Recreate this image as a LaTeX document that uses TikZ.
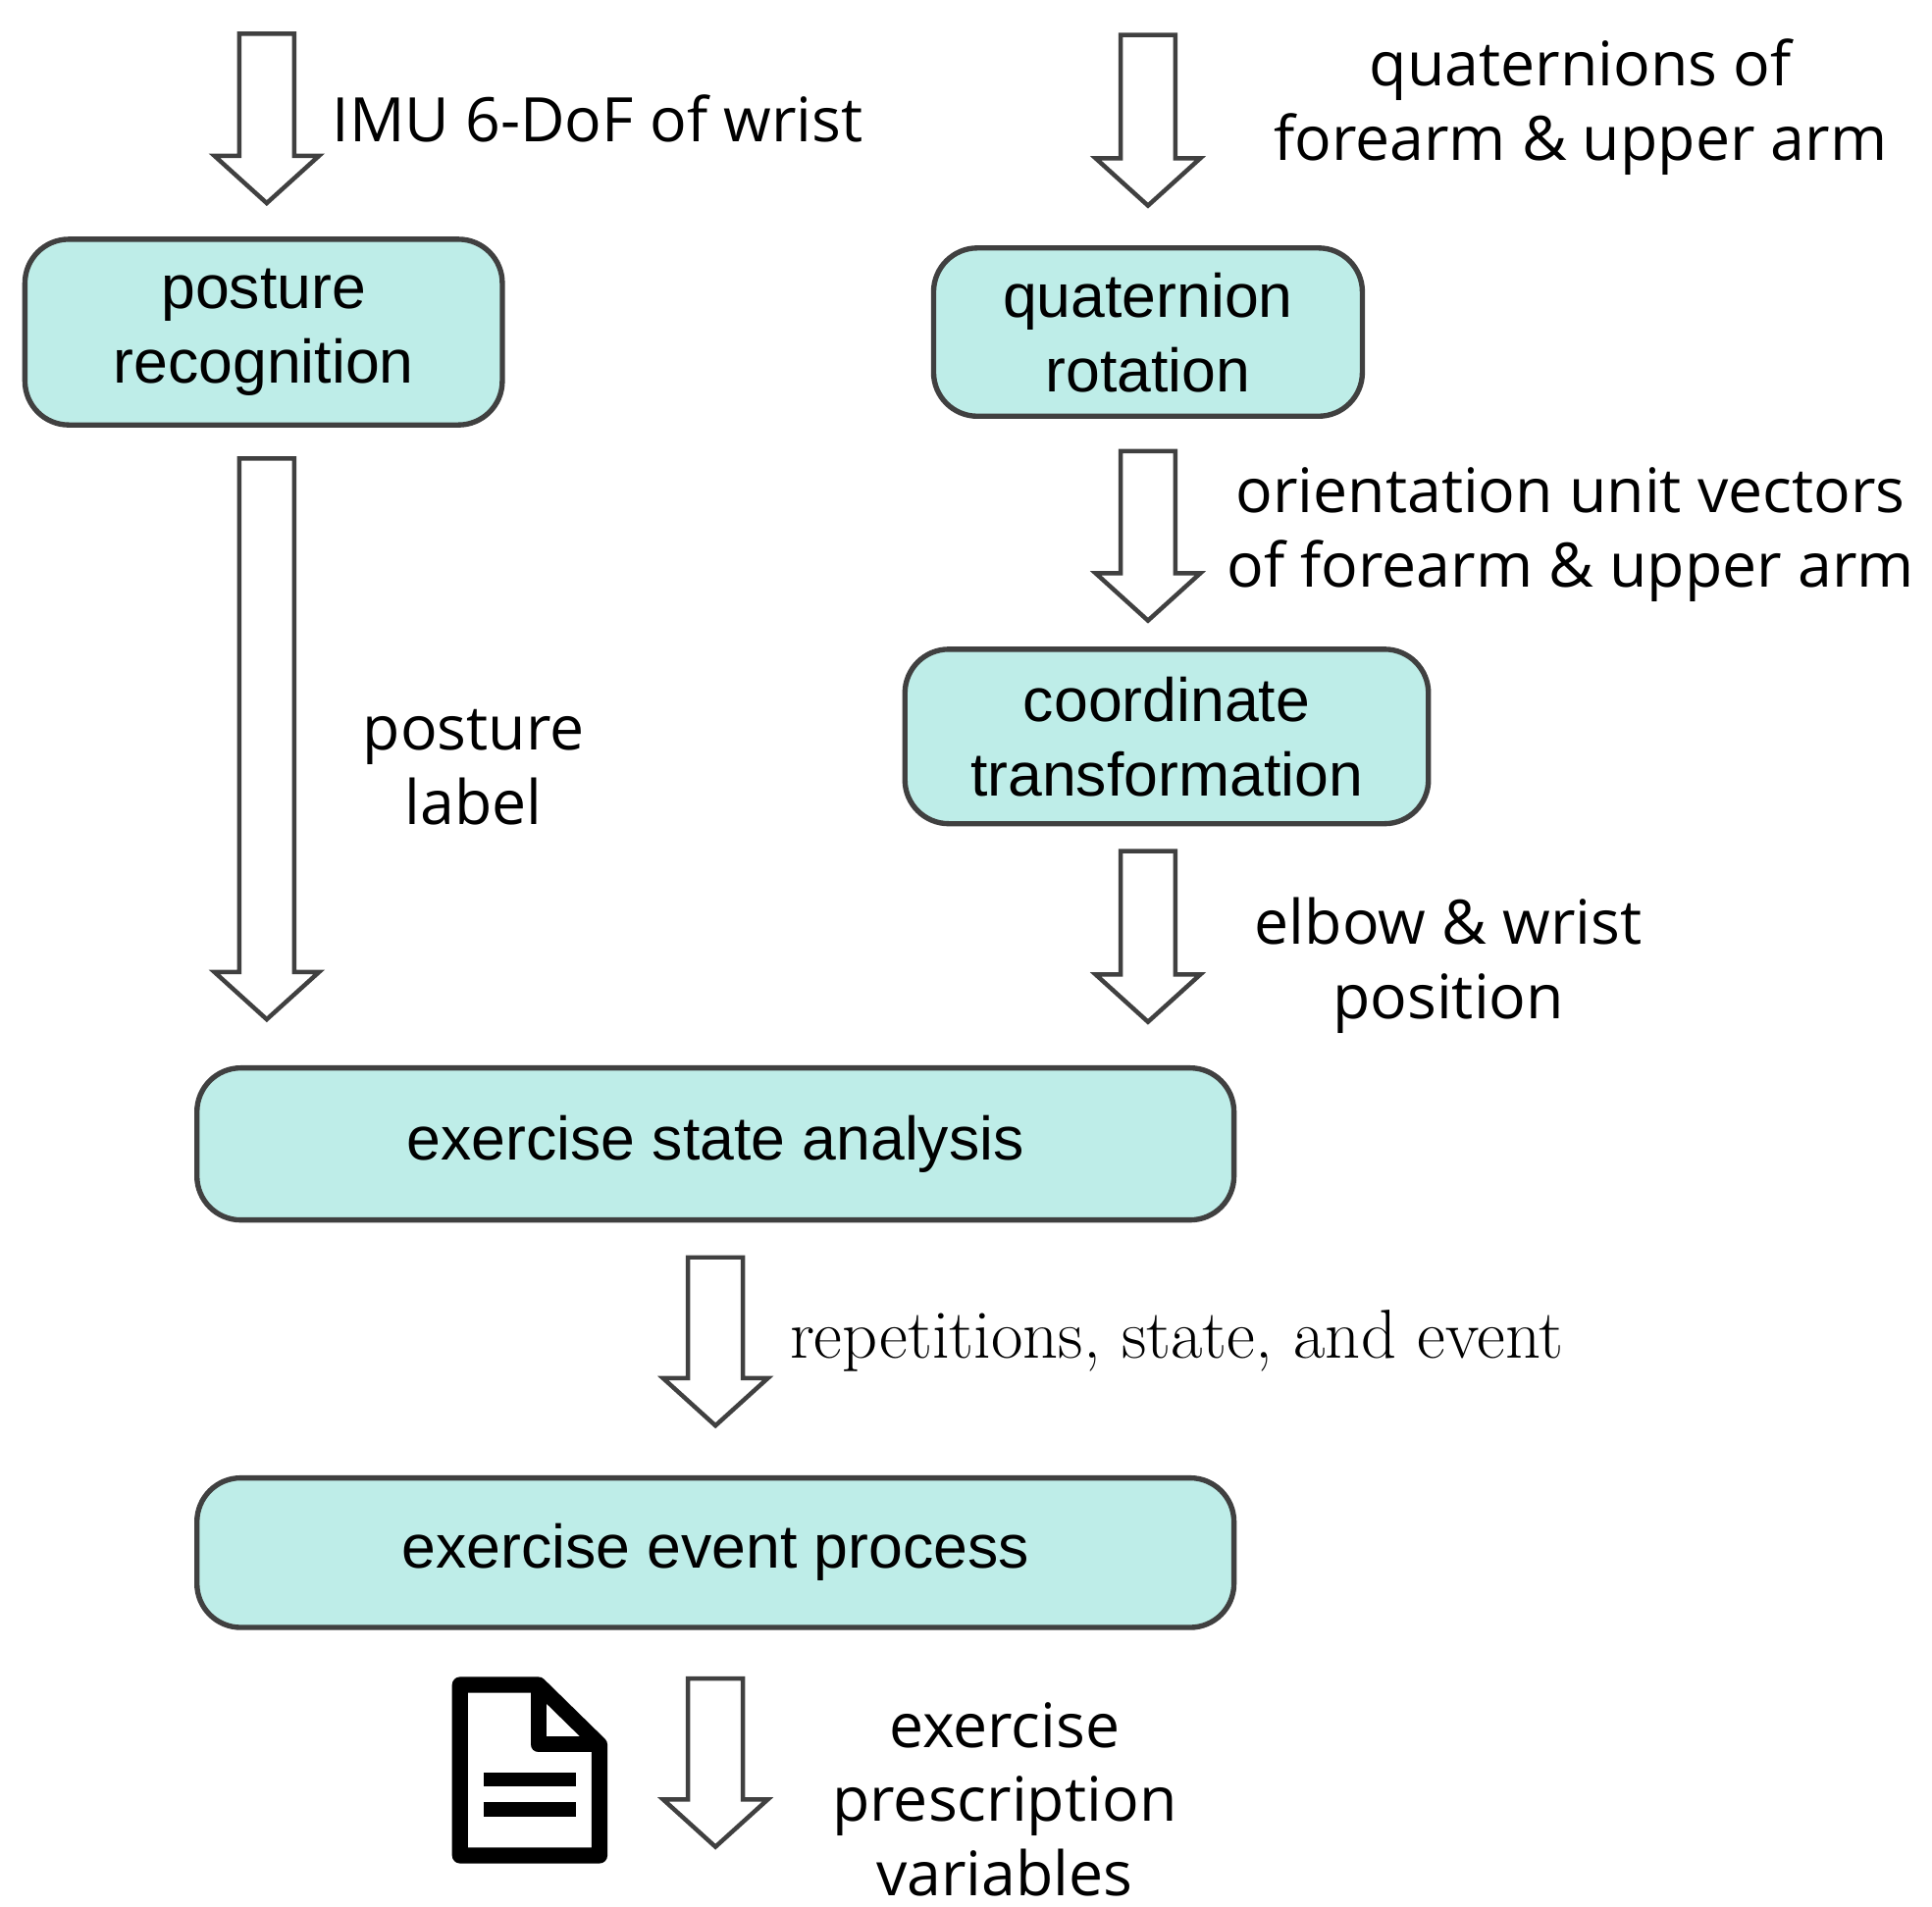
\documentclass[tikz,border=0pt]{standalone}
\usepackage{fontspec}
\setmainfont{Liberation Sans}
\newfontfamily\lab{Open Sans}
\newfontfamily\serif{Latin Modern Roman}
\begin{document}
\begin{tikzpicture}[x=0.01cm,y=-0.01cm,
 box/.style={draw=black!75,line width=1.2pt,fill=boxc,rounded corners=10pt,font=\fontsize{14}{18}\selectfont,align=center,inner sep=0pt},
 txt/.style={font=\fontsize{14}{17}\selectfont,align=center,inner sep=0pt},
 lbl/.style={font=\lab\fontsize{14}{17}\selectfont,align=center,inner sep=0pt},
 harr/.style={draw=black!75,line width=1pt,fill=white}]
\definecolor{boxc}{HTML}{BEEDE8}
\useasboundingbox (0,0) rectangle (1550,1530);
\newcommand{\harrow}[3]{\draw[harr] (#1-22,#2) -- (#1+22,#2) -- (#1+22,#3-38) -- (#1+42,#3-38) -- (#1,#3) -- (#1-42,#3-38) -- (#1-22,#3-38) -- cycle;}
\harrow{214}{27}{163}
\harrow{921}{28}{165}
\harrow{921}{362}{498}
\harrow{921}{683}{820}
\harrow{214}{368}{818}
\harrow{574}{1009}{1144}
\harrow{574}{1347}{1482}
\draw[box] (20,192) rectangle (403,341);
\node[txt] (pr) at (211.5,266.5) {posture\\recognition};
\draw[box] (749,199) rectangle (1093,334);
\node[txt] (qr) at (921,267) {quaternion\\rotation};
\draw[box] (726,521) rectangle (1146,661);
\node[txt] (ct) at (936,591) {coordinate\\transformation};
\draw[box] (158,857) rectangle (990,979);
\node[txt] (es) at (574,918) {exercise state analysis};
\draw[box] (158,1186) rectangle (990,1306);
\node[txt] (ep) at (574,1246) {exercise event process};
\node[lbl,anchor=west] (l1) at (266,95) {IMU 6-DoF of wrist};
\node[lbl] (l2) at (1268,86) {quaternions of\\forearm \& upper arm};
\node[lbl] (l3) at (1260,429) {orientation unit vectors\\of forearm \& upper arm};
\node[lbl] (l4) at (1162,775) {elbow \& wrist\\position};
\node[lbl] (l5) at (380,616) {posture\\label};
\node[font=\serif\fontsize{15.8}{18}\selectfont,anchor=west,inner sep=0pt] (l6) at (633,1076) {repetitions, state, and event};
\node[lbl] (l7) at (806,1444) {exercise\\prescription\\variables};
% document icon
\draw[line width=3.6pt,line join=round] (369,1352) -- (432,1352) -- (481,1400) -- (481,1489) -- (369,1489) -- cycle;
\draw[line width=3.6pt,line join=round] (432,1352) -- (432,1400) -- (481,1400);
\draw[line width=3.2pt] (388,1428) -- (462,1428);
\draw[line width=3.2pt] (388,1452) -- (462,1452);
\end{tikzpicture}
\end{document}
